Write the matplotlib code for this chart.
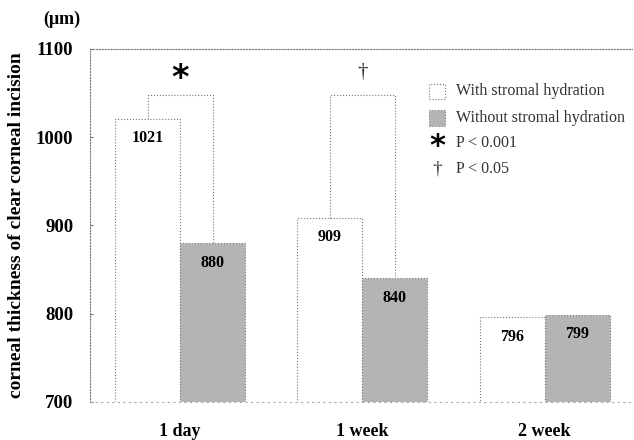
import numpy as np
import matplotlib.pyplot as plt

plt.rcParams['font.family'] = ['Liberation Serif', 'DejaVu Serif']

periods = ['1 day', '1 week', '2 week']
with_hydration = [1021, 909, 796]
without_hydration = [880, 840, 799]
bracket_top = [1048, 1048]
legend_labels = ['With stromal hydration', 'Without stromal hydration', 'P < 0.001', 'P < 0.05']

x = np.arange(len(periods))
w = 0.357

fig = plt.figure(figsize=(6.34, 4.4), dpi=100)
ax = fig.add_axes([0.142, 0.0864, 0.855, 0.8023])

edge = '#777777'
ax.bar(x - w / 2, [v - 700 for v in with_hydration], w, bottom=700, color='white',
       edgecolor=edge, linewidth=0.8, linestyle=':')
ax.bar(x + w / 2, [v - 700 for v in without_hydration], w, bottom=700, color='#b4b4b4',
       edgecolor=edge, linewidth=0.8, linestyle=':')

for i in range(len(periods)):
    ax.text(x[i] - w / 2, with_hydration[i] - 22, str(with_hydration[i]), ha='center', va='center',
            fontsize=11.5, fontweight='bold')
    ax.text(x[i] + w / 2, without_hydration[i] - 22, str(without_hydration[i]), ha='center', va='center',
            fontsize=11.5, fontweight='bold')

# significance brackets
for i in range(len(bracket_top)):
    xl, xr = x[i] - w / 2, x[i] + w / 2
    ax.plot([xl, xl, xr, xr], [with_hydration[i], bracket_top[i], bracket_top[i], without_hydration[i]],
            color=edge, linewidth=0.8, linestyle=':')
ax.text(x[0], 1066, '*', ha='center', va='center', fontsize=24, fontweight='bold', family='DejaVu Sans')
ax.text(x[1], 1073, '\u2020', ha='center', va='center', fontsize=15, color='#333333')

# legend drawn by hand in axes coords
lx, ly = 0.64, [0.88, 0.805, 0.735, 0.66]
ax.add_patch(plt.Rectangle((lx - 0.014, ly[0] - 0.022), 0.028, 0.044, transform=ax.transAxes,
                           facecolor='white', edgecolor=edge, linewidth=0.8, linestyle=':'))
ax.add_patch(plt.Rectangle((lx - 0.014, ly[1] - 0.022), 0.028, 0.044, transform=ax.transAxes,
                           facecolor='#b4b4b4', edgecolor=edge, linewidth=0.8, linestyle=':'))
ax.text(lx, ly[2] - 0.012, '*', transform=ax.transAxes, ha='center', va='center', fontsize=22,
        fontweight='bold', family='DejaVu Sans')
ax.text(lx, ly[3], '\u2020', transform=ax.transAxes, ha='center', va='center', fontsize=14, color='#333333')
for yy, lab in zip(ly, legend_labels):
    ax.text(lx + 0.035, yy, lab, transform=ax.transAxes, ha='left', va='center', fontsize=11.5, color='#333333')

ax.set_xlim(-0.495, 2.48)
ax.set_ylim(700, 1100)
ax.set_yticks([700, 800, 900, 1000, 1100])
ax.set_xticks(x)
ax.set_xticklabels(periods, fontsize=13, fontweight='bold')
ax.tick_params(axis='x', length=0, pad=15)
ax.tick_params(axis='y', length=2, direction='in', color=edge, pad=12)
for lab in ax.get_yticklabels():
    lab.set_fontsize(13.5)
    lab.set_fontweight('bold')

for side in ['left', 'top']:
    ax.spines[side].set_linestyle(':')
    ax.spines[side].set_color(edge)
    ax.spines[side].set_linewidth(0.8)
ax.spines['right'].set_visible(False)
ax.spines['bottom'].set_linestyle((0, (1, 4)))
ax.spines['bottom'].set_color('#aaaaaa')
ax.spines['bottom'].set_linewidth(0.8)

ax.set_ylabel('corneal thickness of clear corneal incision', fontsize=14, fontweight='bold', labelpad=8)
fig.text(0.098, 0.955, '(\u03bcm)', ha='center', va='center', fontsize=13, fontweight='bold')

fig.savefig('out.png', dpi=100)
